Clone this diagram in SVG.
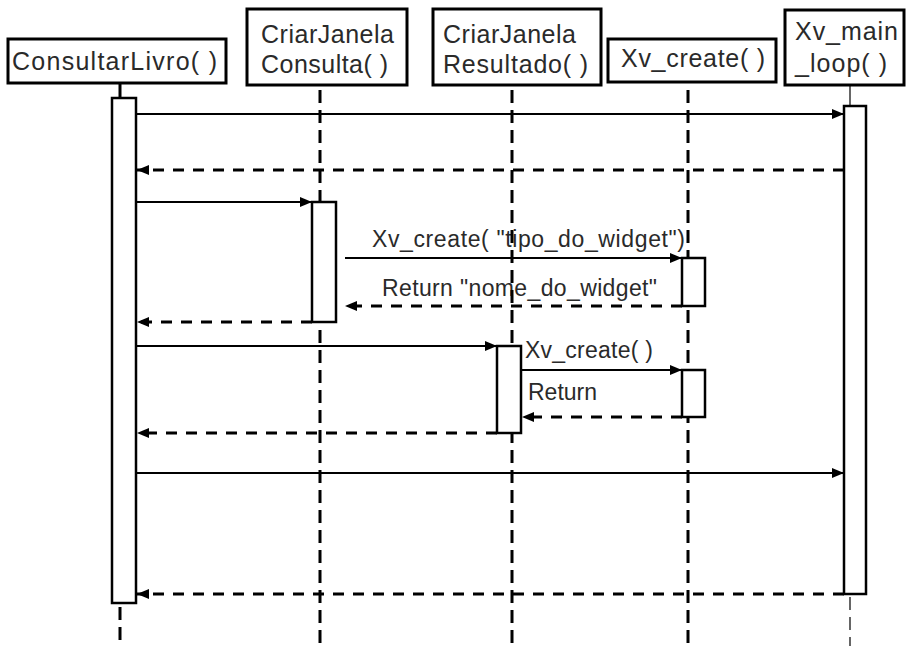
<svg xmlns="http://www.w3.org/2000/svg" width="906" height="646" viewBox="0 0 906 646">
<defs>
<style>
.box{fill:#fff;stroke:#000;stroke-width:3}
.act{fill:#fff;stroke:#000;stroke-width:2.5}
.life{stroke:#000;stroke-width:3;stroke-dasharray:13 7;fill:none}
.thin{stroke:#000;stroke-width:1.2;fill:none}
.thind{stroke:#000;stroke-width:1.2;stroke-dasharray:13 7;fill:none}
.msg{stroke:#000;stroke-width:2;fill:none;marker-end:url(#arr)}
.ret{stroke:#000;stroke-width:3;stroke-dasharray:11 9;fill:none;marker-end:url(#arr)}
.hd{font-family:"Liberation Sans",Arial,sans-serif;font-size:25px;fill:#2a2a2a}
.lb{font-family:"Liberation Sans",Arial,sans-serif;font-size:23px;fill:#2a2a2a}
</style>
<marker id="arr" markerUnits="userSpaceOnUse" markerWidth="13" markerHeight="11" refX="12" refY="5" orient="auto">
<path d="M0,0 L12,5 L0,10 z" fill="#000"/>
</marker>
</defs>
<rect width="906" height="646" fill="#fff"/>

<g id="labels">
<text class="lb" x="372" y="247" textLength="313" lengthAdjust="spacing">Xv_create( "tipo_do_widget")</text>
<text class="lb" x="382" y="296" textLength="275" lengthAdjust="spacing">Return "nome_do_widget"</text>
<text class="lb" x="525" y="358" textLength="128" lengthAdjust="spacing">Xv_create( )</text>
<text class="lb" x="528" y="400" textLength="69" lengthAdjust="spacing">Return</text>
</g>

<g id="lifelines">
<line class="thin" x1="120" y1="83" x2="120" y2="98" style="stroke-width:3"/>
<line class="life" x1="120" y1="607" x2="120" y2="646"/>
<line class="life" x1="320" y1="90" x2="320" y2="646"/>
<line class="life" x1="512" y1="90" x2="512" y2="646"/>
<line class="life" x1="688" y1="90" x2="688" y2="646"/>
<line class="thin" x1="850" y1="85" x2="850" y2="106"/>
<line class="thind" x1="850" y1="597" x2="850" y2="646"/>
</g>

<g id="connectors">
<line class="msg" x1="136" y1="114" x2="844" y2="114"/>
<line class="ret" x1="844" y1="170" x2="137" y2="170"/>
<line class="msg" x1="136" y1="202" x2="312" y2="202"/>
<line class="msg" x1="345" y1="258" x2="682" y2="258"/>
<line class="ret" x1="682" y1="306" x2="345" y2="306"/>
<line class="ret" x1="312" y1="322" x2="137" y2="322"/>
<line class="msg" x1="136" y1="346" x2="497" y2="346"/>
<line class="msg" x1="521" y1="370" x2="682" y2="370"/>
<line class="ret" x1="682" y1="417" x2="522" y2="417"/>
<line class="ret" x1="497" y1="433" x2="137" y2="433"/>
<line class="msg" x1="136" y1="473" x2="844" y2="473"/>
<line class="ret" x1="844" y1="594" x2="137" y2="594"/>
</g>

<g id="node-consultarlivro">
<rect class="box" x="8" y="39" width="218" height="44"/>
<text class="hd" x="12" y="70" textLength="205" lengthAdjust="spacing">ConsultarLivro( )</text>
<rect class="act" x="112" y="98" width="24" height="505"/>
</g>

<g id="node-criarjanelaconsulta">
<rect class="box" x="247" y="9" width="160" height="76"/>
<text class="hd" x="261" y="43" textLength="133" lengthAdjust="spacing">CriarJanela</text>
<text class="hd" x="261" y="73" textLength="127" lengthAdjust="spacing">Consulta( )</text>
<rect class="act" x="312" y="202" width="24" height="120"/>
</g>

<g id="node-criarjanelaresultado">
<rect class="box" x="433" y="9" width="168" height="76"/>
<text class="hd" x="443" y="43" textLength="133" lengthAdjust="spacing">CriarJanela</text>
<text class="hd" x="443" y="73" textLength="145" lengthAdjust="spacing">Resultado( )</text>
<rect class="act" x="497" y="346" width="24" height="87"/>
</g>

<g id="node-xvcreate">
<rect class="box" x="608" y="39" width="168" height="43"/>
<text class="hd" x="621" y="67" textLength="144" lengthAdjust="spacing">Xv_create( )</text>
<rect class="act" x="682" y="258" width="23" height="48"/>
<rect class="act" x="682" y="370" width="23" height="47"/>
</g>

<g id="node-xvmainloop">
<rect class="box" x="785" y="10" width="119" height="75"/>
<text class="hd" x="795" y="40" textLength="103" lengthAdjust="spacing">Xv_main</text>
<text class="hd" x="795" y="72" textLength="92" lengthAdjust="spacing">_loop( )</text>
<rect class="act" x="844" y="106" width="22" height="488"/>
</g>
</svg>
